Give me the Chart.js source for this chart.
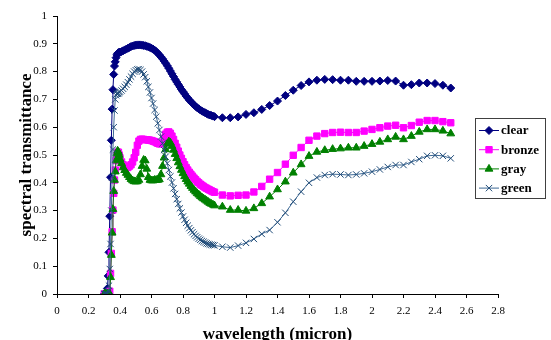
<!DOCTYPE html>
<html>
<head>
<meta charset="utf-8">
<script src="https://cdn.jsdelivr.net/npm/chart.js@4.4.1/dist/chart.umd.min.js"></script>
<style>
  html, body { margin: 0; padding: 0; background: #fff; }
  #wrap { width: 551px; height: 340px; }
</style>
</head>
<body>
<div id="wrap"><canvas id="chart" width="551" height="340"></canvas></div>
<script>
// wavelength in micron (0.005 step in the UV edge, 0.01 up to 1, then 0.05)
const wavelength = [
  0.300, 0.305, 0.310, 0.315, 0.320, 0.325, 0.330, 0.335, 0.340, 0.345,
  0.350, 0.355, 0.360, 0.365, 0.370, 0.375, 0.380, 0.385, 0.390, 0.395,
  0.40, 0.41, 0.42, 0.43, 0.44, 0.45, 0.46, 0.47, 0.48, 0.49,
  0.50, 0.51, 0.52, 0.53, 0.54, 0.55, 0.56, 0.57, 0.58, 0.59,
  0.60, 0.61, 0.62, 0.63, 0.64, 0.65, 0.66, 0.67, 0.68, 0.69,
  0.70, 0.71, 0.72, 0.73, 0.74, 0.75, 0.76, 0.77, 0.78, 0.79,
  0.80, 0.81, 0.82, 0.83, 0.84, 0.85, 0.86, 0.87, 0.88, 0.89,
  0.90, 0.91, 0.92, 0.93, 0.94, 0.95, 0.96, 0.97, 0.98, 0.99,
  1.00, 1.05, 1.10, 1.15, 1.20, 1.25, 1.30, 1.35, 1.40, 1.45,
  1.50, 1.55, 1.60, 1.65, 1.70, 1.75, 1.80, 1.85, 1.90, 1.95,
  2.00, 2.05, 2.10, 2.15, 2.20, 2.25, 2.30, 2.35, 2.40, 2.45, 2.50
];

const clear = [
  0, 0, 0, 0, 0.02, 0.065, 0.15, 0.28, 0.42, 0.553,
  0.665, 0.735, 0.79, 0.82, 0.835, 0.85, 0.86, 0.865, 0.868, 0.87,
  0.870, 0.872, 0.875, 0.878, 0.881, 0.884, 0.887, 0.890, 0.892, 0.894,
  0.895, 0.896, 0.896, 0.896, 0.895, 0.894, 0.893, 0.891, 0.889, 0.887,
  0.884, 0.881, 0.877, 0.872, 0.866, 0.860, 0.853, 0.846, 0.838, 0.830,
  0.821, 0.812, 0.802, 0.792, 0.782, 0.772, 0.763, 0.754, 0.745, 0.736,
  0.728, 0.720, 0.712, 0.705, 0.698, 0.692, 0.686, 0.680, 0.675, 0.670,
  0.666, 0.662, 0.658, 0.655, 0.652, 0.649, 0.646, 0.644, 0.642, 0.640,
  0.638, 0.634, 0.634, 0.637, 0.646, 0.652, 0.664, 0.678, 0.694, 0.714,
  0.733, 0.750, 0.763, 0.769, 0.772, 0.771, 0.769, 0.769, 0.765, 0.765,
  0.765, 0.766, 0.768, 0.766, 0.751, 0.753, 0.759, 0.759, 0.757, 0.751, 0.741
];

const bronze = [
  0, 0, 0, 0, 0, 0, 0, 0.01, 0.074, 0.146,
  0.224, 0.302, 0.362, 0.41, 0.446, 0.48, 0.50, 0.51, 0.51, 0.50,
  0.490, 0.475, 0.465, 0.458, 0.455, 0.455, 0.460, 0.465, 0.475, 0.490,
  0.510, 0.535, 0.550, 0.556, 0.557, 0.556, 0.555, 0.555, 0.554, 0.553,
  0.552, 0.550, 0.548, 0.545, 0.542, 0.540, 0.540, 0.545, 0.560, 0.575,
  0.582, 0.583, 0.578, 0.568, 0.556, 0.542, 0.528, 0.514, 0.500, 0.488,
  0.476, 0.465, 0.455, 0.446, 0.438, 0.431, 0.424, 0.417, 0.411, 0.405,
  0.400, 0.395, 0.391, 0.387, 0.383, 0.380, 0.377, 0.374, 0.371, 0.368,
  0.366, 0.356, 0.353, 0.355, 0.356, 0.367, 0.387, 0.413, 0.437, 0.467,
  0.499, 0.527, 0.553, 0.568, 0.577, 0.581, 0.582, 0.581, 0.581, 0.586,
  0.592, 0.598, 0.604, 0.607, 0.598, 0.606, 0.618, 0.624, 0.624, 0.620, 0.616
];

const gray = [
  0, 0, 0, 0, 0, 0, 0, 0, 0.06, 0.14,
  0.22, 0.305, 0.37, 0.41, 0.44, 0.48, 0.505, 0.515, 0.51, 0.50,
  0.485, 0.470, 0.455, 0.445, 0.435, 0.428, 0.420, 0.413, 0.408, 0.405,
  0.404, 0.405, 0.410, 0.430, 0.460, 0.482, 0.480, 0.450, 0.420, 0.410,
  0.408, 0.408, 0.410, 0.410, 0.410, 0.412, 0.430, 0.460, 0.490, 0.520,
  0.540, 0.548, 0.544, 0.532, 0.518, 0.503, 0.488, 0.473, 0.459, 0.446,
  0.434, 0.423, 0.413, 0.404, 0.396, 0.388, 0.381, 0.374, 0.368, 0.362,
  0.357, 0.352, 0.347, 0.343, 0.339, 0.335, 0.331, 0.327, 0.324, 0.321,
  0.318, 0.314, 0.302, 0.302, 0.299, 0.308, 0.326, 0.350, 0.376, 0.404,
  0.436, 0.466, 0.496, 0.511, 0.517, 0.521, 0.523, 0.526, 0.526, 0.532,
  0.539, 0.547, 0.556, 0.565, 0.556, 0.568, 0.583, 0.592, 0.592, 0.587, 0.577
];

const green = [
  0, 0, 0, 0, 0, 0.01, 0.03, 0.09, 0.18, 0.30,
  0.42, 0.52, 0.60, 0.66, 0.70, 0.715, 0.72, 0.72, 0.722, 0.725,
  0.728, 0.732, 0.738, 0.745, 0.753, 0.762, 0.772, 0.782, 0.792, 0.800,
  0.805, 0.808, 0.808, 0.806, 0.800, 0.790, 0.780, 0.765, 0.745, 0.725,
  0.705, 0.685, 0.662, 0.638, 0.614, 0.590, 0.566, 0.542, 0.518, 0.494,
  0.470, 0.446, 0.423, 0.401, 0.380, 0.360, 0.341, 0.324, 0.308, 0.293,
  0.279, 0.267, 0.256, 0.246, 0.237, 0.229, 0.222, 0.215, 0.209, 0.204,
  0.199, 0.195, 0.191, 0.188, 0.185, 0.182, 0.180, 0.178, 0.177, 0.176,
  0.175, 0.170, 0.167, 0.174, 0.184, 0.198, 0.216, 0.230, 0.258, 0.292,
  0.332, 0.368, 0.400, 0.419, 0.428, 0.431, 0.430, 0.428, 0.430, 0.434,
  0.440, 0.448, 0.457, 0.464, 0.464, 0.475, 0.485, 0.497, 0.499, 0.497, 0.488
];

const xTicks = [0, 0.2, 0.4, 0.6, 0.8, 1, 1.2, 1.4, 1.6, 1.8, 2, 2.2, 2.4, 2.6, 2.8];
const yTicks = [0, 0.1, 0.2, 0.3, 0.4, 0.5, 0.6, 0.7, 0.8, 0.9, 1];

const serif = '"Liberation Serif", "Times New Roman", serif';

function toPoints(values) {
  return wavelength.map((w, i) => ({ x: w, y: values[i] }));
}

// draws a legend box on top of the plot, like the excel one
const legendBox = {
  id: 'legendBox',
  afterDraw(chart) {
    const ctx = chart.ctx;
    const bx = 475.5, by = 118.5, bw = 70, bh = 80;
    ctx.save();
    ctx.fillStyle = '#ffffff';
    ctx.fillRect(bx, by, bw, bh);
    ctx.strokeStyle = '#404040';
    ctx.lineWidth = 1;
    ctx.strokeRect(bx, by, bw, bh);
    chart.data.datasets.forEach((ds, i) => {
      const y = 130.5 + i * 19.2;
      ctx.strokeStyle = ds.borderColor;
      ctx.lineWidth = 1;
      ctx.beginPath();
      ctx.moveTo(479, y);
      ctx.lineTo(499, y);
      ctx.stroke();
      ctx.fillStyle = ds.pointBackgroundColor;
      ctx.strokeStyle = ds.pointBorderColor;
      Chart.helpers.drawPoint(ctx, {
        pointStyle: ds.pointStyle, radius: ds.pointRadius,
        borderWidth: ds.pointBorderWidth, rotation: 0
      }, 489, y);
      ctx.fillStyle = '#000';
      ctx.font = 'bold 13px ' + serif;
      ctx.textBaseline = 'middle';
      ctx.textAlign = 'left';
      ctx.fillText(ds.label, 501, y + 0.5);
    });
    ctx.restore();
  }
};

const series = [
  { label: 'clear', values: clear, line: '#000080', mark: '#000080', style: 'rectRot', r: 4, order: 4 },
  { label: 'bronze', values: bronze, line: '#ff00ff', mark: '#ff00ff', style: 'rect', r: 4.5, order: 3 },
  { label: 'gray', values: gray, line: '#008000', mark: '#008000', style: 'triangle', r: 4.5, order: 2 },
  { label: 'green', values: green, line: '#3d6894', mark: '#1f4b78', style: 'crossRot', r: 4.5, order: 1 }
];

const ctx = document.getElementById('chart').getContext('2d');
new Chart(ctx, {
  type: 'scatter',
  data: {
    datasets: series.map(s => ({
      label: s.label,
      data: toPoints(s.values),
      showLine: true,
      borderColor: s.line,
      backgroundColor: s.mark,
      borderWidth: 1,
      pointStyle: s.style,
      pointRadius: s.r,
      pointBackgroundColor: s.mark,
      pointBorderColor: s.mark,
      pointBorderWidth: 1,
      order: s.order
    }))
  },
  options: {
    responsive: false,
    animation: false,
    events: [],
    layout: { padding: { left: 0, right: 53, top: 16, bottom: 0 } },
    plugins: {
      legend: { display: false },
      tooltip: { enabled: false }
    },
    scales: {
      x: {
        type: 'linear',
        min: 0,
        max: 2.8,
        afterBuildTicks: scale => { scale.ticks = xTicks.map(v => ({ value: v })); },
        afterFit: scale => { scale.height = 46; },
        ticks: {
          autoSkip: false, maxRotation: 0, padding: 7, color: '#000',
          font: { family: serif, size: 11 },
          callback: v => String(v)
        },
        grid: { display: true, drawOnChartArea: false, tickLength: 4, color: '#000' },
        border: { display: true, color: '#000', width: 1 },
        title: {
          display: true, text: 'wavelength (micron)', color: '#000',
          font: { family: serif, size: 17, weight: 'bold', lineHeight: 1 },
          padding: { top: 0, bottom: -3 }
        }
      },
      y: {
        min: 0,
        max: 1,
        afterBuildTicks: scale => { scale.ticks = yTicks.map(v => ({ value: v })); },
        afterFit: scale => { scale.width = 57; },
        ticks: {
          padding: 6, color: '#000',
          font: { family: serif, size: 11 },
          callback: v => String(v)
        },
        grid: { display: true, drawOnChartArea: false, tickLength: 4, color: '#000' },
        border: { display: true, color: '#000', width: 1 },
        title: {
          display: true, text: 'spectral transmittance', color: '#000',
          font: { family: serif, size: 17, weight: 'bold', lineHeight: 1 },
          padding: { top: 18, bottom: 0 }
        }
      }
    }
  },
  plugins: [legendBox]
});
</script>
</body>
</html>
